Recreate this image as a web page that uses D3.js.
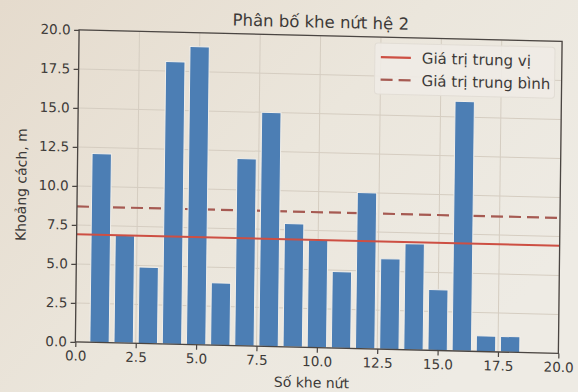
<!DOCTYPE html>
<html>
<head>
<meta charset="utf-8">
<script src="https://cdn.jsdelivr.net/npm/d3@7/dist/d3.min.js"></script>
<style>
  html, body { margin: 0; padding: 0; background: #e9e3d8; }
  svg { display: block; }
</style>
</head>
<body>
<svg id="chart" width="578" height="392"></svg>
<script>
// Fracture set 2: spacing between consecutive fractures (m)
const fractureIndex = [1, 2, 3, 4, 5, 6, 7, 8, 9, 10, 11, 12, 13, 14, 15, 16, 17, 18];
const spacing = [12.1, 6.9, 4.9, 18.1, 19.1, 4.0, 12.0, 15.0, 7.9, 6.9, 4.9, 10.0, 5.8, 6.8, 3.9, 16.0, 1.0, 1.0];

const xTicks = [0, 2.5, 5, 7.5, 10, 12.5, 15, 17.5, 20];
const yTicks = [0, 2.5, 5, 7.5, 10, 12.5, 15, 17.5, 20];

const titleText = "Phân bố khe nứt hệ 2";
const xLabelText = "Số khe nứt";
const yLabelText = "Khoảng cách, m";
const legendLabels = ["Giá trị trung vị", "Giá trị trung bình"];

const medianValue = d3.median(spacing);
const meanValue = d3.mean(spacing);

const W = 483, H = 312;
const font = "'DejaVu Sans', sans-serif";
const textColor = "#3d3a38";
const barColor = "#4c7eb4";
const medianColor = "#cd4f43";
const meanColor = "#a65a52";
const gridColor = "#d5cdc1";
const spineColor = "#4a4542";

const svg = d3.select("#chart");

// paper background with a soft light falloff
const defs = svg.append("defs");
const grad = defs.append("linearGradient").attr("id", "paper")
  .attr("x1", "0").attr("y1", "0").attr("x2", "1").attr("y2", "0.6");
grad.append("stop").attr("offset", "0").attr("stop-color", "#e5dbcd");
grad.append("stop").attr("offset", "0.55").attr("stop-color", "#ebe6dc");
grad.append("stop").attr("offset", "1").attr("stop-color", "#eeebe4");
svg.append("rect").attr("width", 578).attr("height", 392).attr("fill", "url(#paper)");

// the page is slightly tilted
const g = svg.append("g").attr("transform", "matrix(1,0.0238,-0.012,1,79.1,29.9)");

const x = d3.scaleLinear().domain([0, 20]).range([0, W]);
const y = d3.scaleLinear().domain([0, 20]).range([H, 0]);

// grid
g.append("g").selectAll("line").data(xTicks).join("line")
  .attr("x1", d => x(d)).attr("x2", d => x(d)).attr("y1", 0).attr("y2", H)
  .attr("stroke", gridColor).attr("stroke-width", 1);
g.append("g").selectAll("line").data(yTicks).join("line")
  .attr("x1", 0).attr("x2", W).attr("y1", d => y(d)).attr("y2", d => y(d))
  .attr("stroke", gridColor).attr("stroke-width", 1);

// mean line (drawn beneath the bars)
g.append("line")
  .attr("x1", 0).attr("x2", W).attr("y1", y(meanValue)).attr("y2", y(meanValue))
  .attr("stroke", meanColor).attr("stroke-width", 2.2).attr("stroke-dasharray", "12 6");

// bars
const barW = x(0.8) - x(0);
g.append("g").selectAll("rect").data(fractureIndex).join("rect")
  .attr("x", (d) => x(d) - barW / 2)
  .attr("width", barW)
  .attr("y", (d, i) => y(spacing[i]))
  .attr("height", (d, i) => y(0) - y(spacing[i]))
  .attr("fill", barColor)
  .attr("stroke", "#f2efea").attr("stroke-width", 1);

// median line
g.append("line")
  .attr("x1", 0).attr("x2", W).attr("y1", y(medianValue)).attr("y2", y(medianValue))
  .attr("stroke", medianColor).attr("stroke-width", 2);

// spines
g.append("rect").attr("x", 0).attr("y", 0).attr("width", W).attr("height", H)
  .attr("fill", "none").attr("stroke", spineColor).attr("stroke-width", 1.3);

// axes
const xAxis = d3.axisBottom(x).tickValues(xTicks).tickFormat(d3.format(".1f")).tickSize(5).tickPadding(4);
const yAxis = d3.axisLeft(y).tickValues(yTicks).tickFormat(d3.format(".1f")).tickSize(5).tickPadding(3.5);

const gx = g.append("g").attr("transform", `translate(0,${H})`).call(xAxis);
const gy = g.append("g").call(yAxis);
[gx, gy].forEach(a => {
  a.select(".domain").remove();
  a.selectAll(".tick line").attr("stroke", spineColor).attr("stroke-width", 1.2);
  a.selectAll(".tick text").attr("fill", textColor).style("font-family", font).style("font-size", "13.5px");
});

// title
g.append("text").attr("x", W / 2).attr("y", -8).attr("text-anchor", "middle")
  .style("font-family", font).style("font-size", "16.5px").attr("fill", textColor)
  .text(titleText);

// axis labels
g.append("text").attr("x", W / 2 - 5).attr("y", H + 40).attr("text-anchor", "middle")
  .style("font-family", font).style("font-size", "14px").attr("fill", textColor)
  .text(xLabelText);
g.append("text").attr("transform", `translate(-51,${H / 2}) rotate(-90)`).attr("text-anchor", "middle")
  .style("font-family", font).style("font-size", "14px").attr("fill", textColor)
  .text(yLabelText);

// legend
const legend = g.append("g").attr("transform", "translate(296,6)");
legend.append("rect").attr("width", 180).attr("height", 51).attr("rx", 3)
  .attr("fill", "#efebe5").attr("fill-opacity", 0.9)
  .attr("stroke", "#e2ddd5").attr("stroke-width", 1);
const legendStyles = [
  { color: medianColor, dash: null },
  { color: meanColor, dash: "12 6" }
];
legendLabels.forEach((label, i) => {
  const row = legend.append("g").attr("transform", `translate(0,${14 + i * 22.6})`);
  row.append("line").attr("x1", 6).attr("x2", 36).attr("y1", 0).attr("y2", 0)
    .attr("stroke", legendStyles[i].color).attr("stroke-width", 2.2)
    .attr("stroke-dasharray", legendStyles[i].dash);
  row.append("text").attr("x", 47).attr("y", 5.4)
    .style("font-family", font).style("font-size", "15px").attr("fill", textColor)
    .text(label);
});
</script>
</body>
</html>
